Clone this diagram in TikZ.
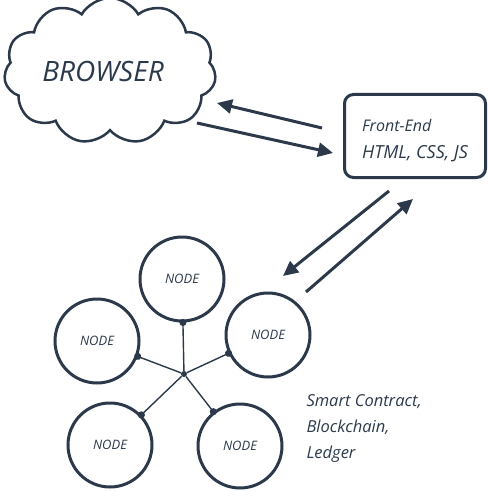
\documentclass[tikz,border=0pt]{standalone}
\usepackage{fontspec}
\setmainfont{Open Sans}
\usetikzlibrary{arrows.meta, positioning, shapes.symbols}
\definecolor{ink}{RGB}{43,57,74}

\begin{document}
\begin{tikzpicture}[
  x=1pt, y=-1pt,
  every node/.style={text=ink, font=\itshape},
  netnode/.style={draw=ink, circle, line width=3pt, minimum size=84pt, font=\itshape\fontsize{13}{15}\selectfont},
  flow/.style={draw=ink, line width=3pt, -{Triangle[length=15pt,width=14pt]}},
  link/.style={draw=ink, line width=1.4pt, -{Circle[length=7pt]}, shorten >=-3.5pt}
]
\useasboundingbox (0,0) rectangle (489,492);

\node (browser) at (110,71) [cloud, draw=ink, line width=2.5pt, cloud puffs=11, cloud puff arc=120, aspect=1.6, minimum width=212pt, minimum height=138pt, inner sep=0pt, font=\itshape\fontsize{28}{32}\selectfont] {BROWSER\hspace*{14pt}};
\node (fe) at (415,136) [draw=ink, rectangle, rounded corners=9pt, line width=3pt, minimum width=141pt, minimum height=83pt, align=left, font=\itshape\fontsize{18}{27}\selectfont] {\rule{0pt}{22pt}{\fontsize{16}{27}\selectfont Front-End}\\HTML, CSS, JS};

\node (top) at (182,279) [netnode] {NODE};
\node (left) at (97,341) [netnode] {NODE};
\node (right) at (268,335) [netnode] {NODE};
\node (botl) at (110,445) [netnode] {NODE};
\node (botr) at (240,446) [netnode] {NODE};
\node (hub) at (184,374) [circle, fill=ink, inner sep=0pt, minimum size=6pt] {};

\node (ledger) at (303,429) [anchor=west, align=left, font=\itshape\fontsize{16.5}{26}\selectfont] {Smart Contract,\\Blockchain,\\Ledger};

\draw[flow] ([xshift=-21pt,yshift=8pt]fe.west) -- ([xshift=107pt,yshift=-32pt]browser.center);
\draw[flow] ([xshift=87pt,yshift=-52pt]browser.center) -- ([xshift=-10pt,yshift=-17pt]fe.west);
\draw[flow] ([xshift=-26pt,yshift=-12pt]fe.south) -- ([xshift=15pt,yshift=59pt]right.center);
\draw[flow] ([xshift=38pt,yshift=43pt]right.center) -- ([xshift=-2pt,yshift=-20pt]fe.south);

\draw[link] (hub) -- (top);
\draw[link] (hub) -- (left);
\draw[link] (hub) -- (right);
\draw[link] (hub) -- (botl);
\draw[link] (hub) -- (botr);
\end{tikzpicture}
\end{document}
